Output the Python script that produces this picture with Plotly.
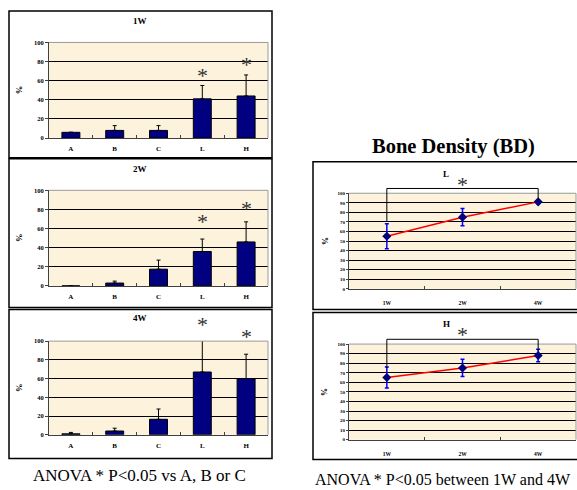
import plotly.graph_objects as go

W, H = 577, 490
FONT = "Liberation Serif"

# ---------------- data ----------------
groups = ["A", "B", "C", "L", "H"]
bar_titles = ["1W", "2W", "4W"]
bar_vals_1w = [6, 8, 8, 41, 44]
bar_err_1w = [0, 5, 5, 14, 22]
bar_vals_2w = [0, 3, 17.5, 36, 46]
bar_err_2w = [0, 2, 9.5, 13, 21]
bar_vals_4w = [1, 4, 16.5, 67, 60]
bar_err_4w = [1.5, 3, 11, 35, 26]
star_1w = {"L": 64, "H": 76}
star_2w = {"L": 66, "H": 80}
star_4w = {"L": 117, "H": 104}

weeks = ["1W", "2W", "4W"]
bd_L = [55, 75, 91]
bd_L_err = [13, 9, 2]
bd_H = [65, 75, 88]
bd_H_err = [11, 9, 6.5]
bracket_L = {"left": 70, "right": 92, "top": 105, "star": 110}
bracket_H = {"left": 75, "right": 93, "top": 105, "star": 111}

caption_left = "ANOVA * P<0.05 vs A, B or C"
caption_right = "ANOVA * P<0.05 between 1W and 4W"
main_title = "Bone Density (BD)"

# ---------------- layout helpers (pixels -> paper) ----------------
def px(x):
    return x / W

def py(y):
    return 1 - y / H

fig = go.Figure()

PLOT_BG = "#FDF2DC"
AXIS_DARK = "#404040"
FRAME_GRAY = "#9a9a9a"
STAR = dict(family=FONT, size=22, color="#333")

left_x = [px(49), px(268)]
left_y = [(39, 136), (189, 286), (342, 437)]
left_boxes = [(9, 7, 272, 156), (9, 157, 272, 308), (9, 310, 272, 461)]
left_title_y = [17, 167, 319]

right_x = [px(349), px(576)]
right_y = [(192, 289), (345, 442)]
right_boxes = [(313, 160, 590, 310), (313, 313, 590, 462)]
right_title_y = [172, 325]

shapes = []
annotations = []


def ann(**kw):
    kw.setdefault("showarrow", False)
    kw.setdefault("xanchor", "center")
    kw.setdefault("yanchor", "middle")
    annotations.append(kw)


bar_sets = [(bar_vals_1w, bar_err_1w, star_1w),
            (bar_vals_2w, bar_err_2w, star_2w),
            (bar_vals_4w, bar_err_4w, star_4w)]

for i, (vals, errs, stars) in enumerate(bar_sets):
    k = i + 1
    xa = "x" if k == 1 else f"x{k}"
    ya = "y" if k == 1 else f"y{k}"
    fig.add_trace(go.Bar(
        x=groups, y=vals, xaxis=xa, yaxis=ya, width=0.41, cliponaxis=False,
        marker=dict(color="#000080", line=dict(color="#000000", width=1)),
        error_y=dict(type="data", array=errs, arrayminus=[0] * len(errs),
                     symmetric=False, color="#000000", thickness=1, width=2),
        showlegend=False, hoverinfo="skip",
    ))
    t, b = left_y[i]
    fig.update_layout(**{
        ("xaxis" if k == 1 else f"xaxis{k}"): dict(
            domain=left_x, anchor=ya, type="category", range=[-0.5, len(groups) - 0.5],
            showline=True, linecolor=AXIS_DARK, linewidth=1,
            ticks="inside", tickson="boundaries", ticklen=3, tickcolor=AXIS_DARK,
            tickfont=dict(family=FONT, size=7, color="#000", weight="bold"),
            ticklabelstandoff=4, showgrid=False, fixedrange=True),
        ("yaxis" if k == 1 else f"yaxis{k}"): dict(
            domain=[py(b), py(t)], anchor=xa, range=[0, 100], dtick=20,
            showline=True, linecolor=AXIS_DARK, linewidth=1,
            ticks="outside", ticklen=3, tickcolor=AXIS_DARK,
            showgrid=True, gridcolor="#000000", gridwidth=1, zeroline=False,
            tickfont=dict(family=FONT, size=6.5, color="#000", weight="bold"),
            fixedrange=True),
    })
    shapes.append(dict(type="line", xref=f"{xa} domain", yref=f"{ya} domain",
                       x0=0, x1=1, y0=1, y1=1, line=dict(color=FRAME_GRAY, width=1)))
    shapes.append(dict(type="line", xref=f"{xa} domain", yref=f"{ya} domain",
                       x0=1, x1=1, y0=0, y1=1, line=dict(color=FRAME_GRAY, width=1)))
    x0, y0, x1, y1 = left_boxes[i]
    shapes.append(dict(type="rect", xref="paper", yref="paper",
                       x0=px(x0), x1=px(x1), y0=py(y1), y1=py(y0),
                       line=dict(color="#000000", width=1.5)))
    ann(text=bar_titles[i], x=px(140), y=py(left_title_y[i]), xref="paper", yref="paper",
        font=dict(family=FONT, size=9, color="#000", weight="bold"))
    ann(text="%", x=px(19), y=py((t + b) / 2), xref="paper", yref="paper", textangle=-90,
        font=dict(family=FONT, size=8.5, color="#000", weight="bold"))
    for g, sy in stars.items():
        gx = (groups.index(g) + 0.5) / len(groups)
        ann(text="*", x=gx, y=sy / 100, xref=f"{xa} domain", yref=f"{ya} domain",
            yshift=1, font=STAR)

line_sets = [("L", bd_L, bd_L_err, bracket_L), ("H", bd_H, bd_H_err, bracket_H)]
for j, (name, vals, errs, br) in enumerate(line_sets):
    k = j + 4
    xa, ya = f"x{k}", f"y{k}"
    fig.add_trace(go.Scatter(
        x=weeks, y=vals, xaxis=xa, yaxis=ya, mode="lines+markers",
        line=dict(color="#FF0000", width=1.5),
        marker=dict(symbol="diamond", size=7, color="#000080"),
        error_y=dict(type="data", array=errs, color="#0000FF", thickness=1.5, width=2),
        showlegend=False, hoverinfo="skip",
    ))
    t, b = right_y[j]
    fig.update_layout(**{
        f"xaxis{k}": dict(
            domain=right_x, anchor=ya, type="category", range=[-0.5, len(weeks) - 0.5],
            showline=True, linecolor=AXIS_DARK, linewidth=1,
            ticks="inside", tickson="boundaries", ticklen=3, tickcolor=AXIS_DARK,
            tickfont=dict(family=FONT, size=5.5, color="#000", weight="bold"),
            ticklabelstandoff=9, showgrid=False, fixedrange=True),
        f"yaxis{k}": dict(
            domain=[py(b), py(t)], anchor=xa, range=[0, 100], dtick=10,
            showline=True, linecolor=AXIS_DARK, linewidth=1,
            ticks="outside", ticklen=2, tickcolor=AXIS_DARK,
            showgrid=True, gridcolor="#000000", gridwidth=1, zeroline=False,
            tickfont=dict(family=FONT, size=5, color="#000", weight="bold"),
            fixedrange=True),
    })
    shapes.append(dict(type="line", xref=f"{xa} domain", yref=f"{ya} domain",
                       x0=0, x1=1, y0=1, y1=1, line=dict(color=FRAME_GRAY, width=1)))
    shapes.append(dict(type="line", xref=f"{xa} domain", yref=f"{ya} domain",
                       x0=1, x1=1, y0=0, y1=1, line=dict(color=FRAME_GRAY, width=1)))
    x0, y0, x1, y1 = right_boxes[j]
    shapes.append(dict(type="rect", xref="paper", yref="paper",
                       x0=px(x0), x1=px(x1), y0=py(y1), y1=py(y0),
                       line=dict(color="#000000", width=1.5)))
    n = len(weeks)
    xl = (weeks.index("1W") + 0.5) / n
    xr = (weeks.index("4W") + 0.5) / n
    shapes.append(dict(type="path", xref=f"{xa} domain", yref=f"{ya} domain",
                       path=f"M {xl} {br['left']/100} L {xl} {br['top']/100} "
                            f"L {xr} {br['top']/100} L {xr} {br['right']/100}",
                       line=dict(color="#000000", width=1)))
    ann(text="*", x=(xl + xr) / 2, y=br["star"] / 100, xref=f"{xa} domain",
        yref=f"{ya} domain", yshift=-1, font=STAR)
    ann(text=name, x=px(446), y=py(right_title_y[j]), xref="paper", yref="paper",
        font=dict(family=FONT, size=9, color="#000", weight="bold"))
    ann(text="%", x=px(325), y=py((t + b) / 2), xref="paper", yref="paper", textangle=-90,
        font=dict(family=FONT, size=8, color="#000", weight="bold"))

ann(text=main_title, x=px(453), y=py(145), xref="paper", yref="paper",
    font=dict(family=FONT, size=20.5, color="#000", weight="bold"))
ann(text=caption_left.replace("<", "&lt;"), x=px(139), y=py(478), xref="paper", yref="paper",
    font=dict(family=FONT, size=17, color="#000"))
ann(text=caption_right.replace("<", "&lt;"), x=px(443), y=py(482), xref="paper", yref="paper",
    font=dict(family=FONT, size=16, color="#000"))

fig.update_layout(
    width=W, height=H, margin=dict(l=0, r=0, t=0, b=0),
    paper_bgcolor="#FFFFFF", plot_bgcolor=PLOT_BG,
    shapes=shapes, annotations=annotations,
    font=dict(family=FONT, color="#000"),
)

fig.write_html("out.html", config={"displayModeBar": False},
               post_script="document.body.style.margin='0';document.body.style.overflow='hidden';")
